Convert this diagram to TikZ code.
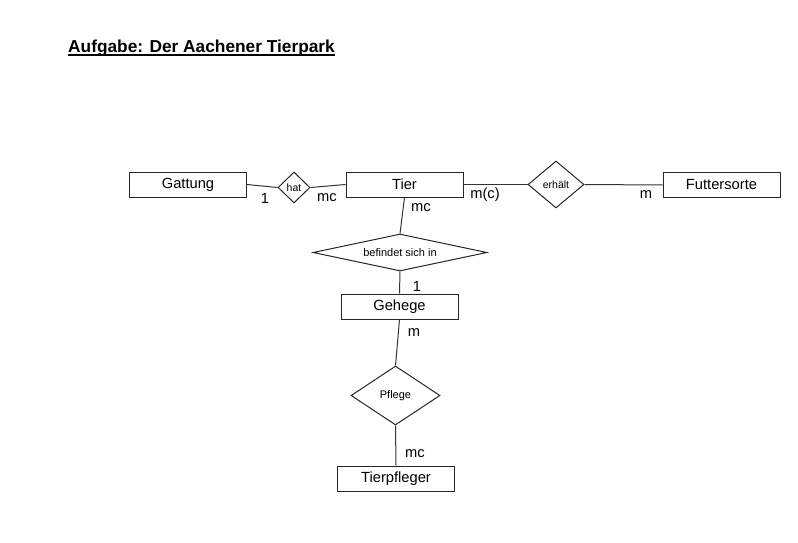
\documentclass[tikz,border=0pt]{standalone}
\usepackage{fontspec}
\setmainfont{Liberation Sans}
\usepackage{tikz}
\usetikzlibrary{shapes.geometric}

\newsavebox{\ulbox}
\newcommand{\thickul}[1]{\sbox{\ulbox}{#1}\rlap{\rule[-3.2pt]{\wd\ulbox}{1.8pt}}\usebox{\ulbox}}

\begin{document}
\begin{tikzpicture}[
    x=1pt,y=-1pt,
    entity/.style={draw=black!85,line width=1pt,minimum width=117pt,minimum height=25pt,
                   inner sep=0pt,font=\fontsize{14.7}{16}\selectfont},
    relation/.style={draw=black!85,line width=1pt,diamond,inner sep=0pt,
                     font=\fontsize{10.5}{12}\selectfont},
    link/.style={draw=black!80,line width=1pt},
    card/.style={inner sep=0pt,font=\fontsize{14.7}{16}\selectfont}
]
    \useasboundingbox (0,0) rectangle (798,543);

    % Title of the task.
    \node[anchor=base west,inner sep=0pt,font=\bfseries\fontsize{17.3}{20}\selectfont]
        (title) at (68,53) {\thickul{Aufgabe: Der Aachener Tierpark}};

    % Entities.
    \node[entity] (gattung)     at (188,184.5) {Gattung};
    \node[entity] (tier)        at (404.5,184.5) {Tier};
    \node[entity] (futter)      at (721.5,185) {Futtersorte};
    \node[entity] (gehege)      at (399.5,306.5) {Gehege};
    \node[entity] (tierpfleger) at (396,478.5) {Tierpfleger};

    % Relationships.
    \node[relation,minimum width=32pt,minimum height=31pt,aspect=1.03] (hat) at (294,187.5) {hat};
    \node[relation,minimum width=56pt,minimum height=47pt,aspect=1.19] (erhaelt) at (556,184.5) {erhält};
    \node[relation,minimum width=174pt,minimum height=37pt,aspect=4.7,
          font=\fontsize{11}{12}\selectfont] (befindet) at (400,252.5) {befindet sich in};
    \node[relation,minimum width=89pt,minimum height=59pt,aspect=1.5,
          font=\fontsize{11}{12}\selectfont] (pflege) at (395.5,395.5) {Pflege};

    % Connections.
    \draw[link] (gattung.east) -- (hat.west);
    \draw[link] (hat.east) -- (tier.west);
    \draw[link] (tier.east) -- (erhaelt.west);
    \draw[link] (erhaelt.east) -- (futter.west);
    \draw[link] (tier.south) -- (befindet.north);
    \draw[link] (befindet.south) -- (gehege.north);
    \draw[link] (gehege.south) -- (pflege.north);
    \draw[link] (pflege.south) -- (tierpfleger.north);

    % Cardinalities.
    \node[card] (cGattung) at (265,198) {1};
    \node[card] (cTierHat) at (327,198) {mc};
    \node[card] (cTierErh) at (485,195) {m(c)};
    \node[card] (cFutter)  at (646,195) {m};
    \node[card] (cTierBef) at (421,208) {mc};
    \node[card] (cGehBef)  at (417,286) {1};
    \node[card] (cGehPfl)  at (414,333) {m};
    \node[card] (cPfleger) at (415,454) {mc};
\end{tikzpicture}
\end{document}
